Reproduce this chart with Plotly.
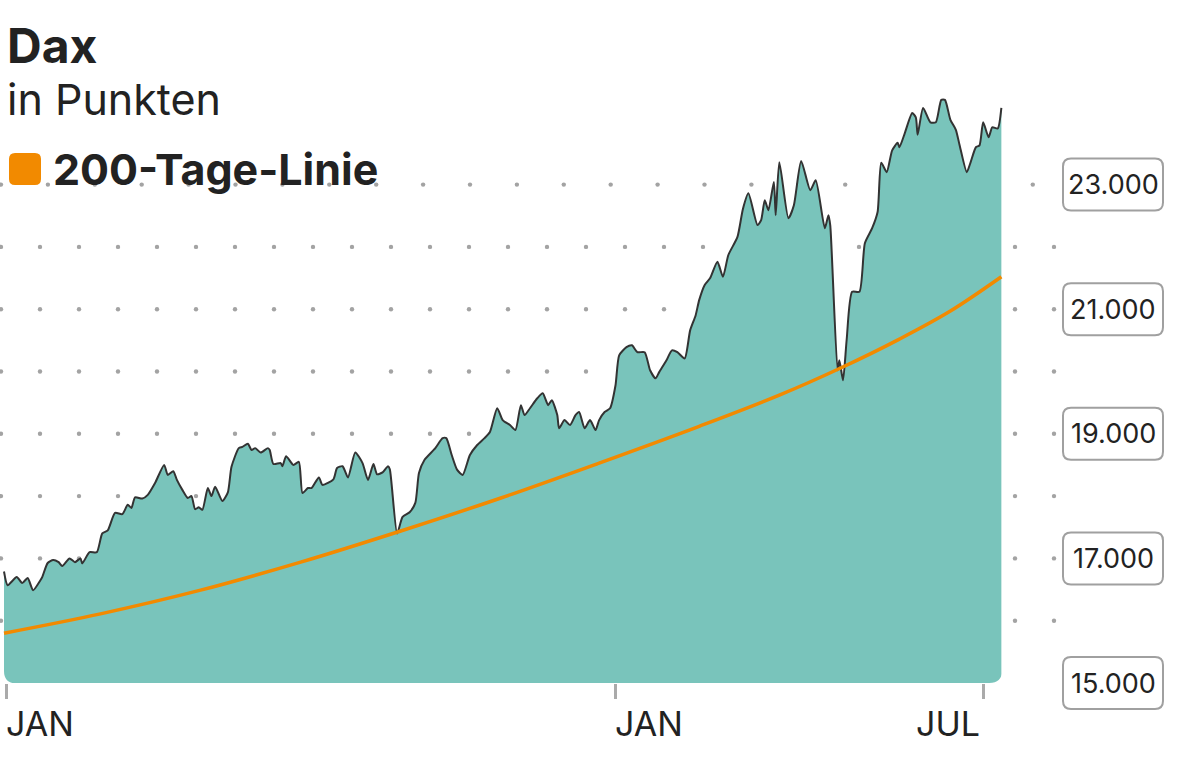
import plotly.graph_objects as go
import pandas as pd

# ---------------- data ----------------
dates = [
    "2024-01-02", "2024-01-04", "2024-01-09", "2024-01-12", "2024-01-15", "2024-01-18",
    "2024-01-22", "2024-01-23", "2024-01-26", "2024-01-29", "2024-02-01", "2024-02-03",
    "2024-02-07", "2024-02-10", "2024-02-13", "2024-02-14", "2024-02-18", "2024-02-22",
    "2024-02-25", "2024-02-28", "2024-03-03", "2024-03-07", "2024-03-10", "2024-03-12",
    "2024-03-14", "2024-03-18", "2024-03-21", "2024-03-25", "2024-03-30", "2024-04-01",
    "2024-04-04", "2024-04-06", "2024-04-09", "2024-04-12", "2024-04-14", "2024-04-16",
    "2024-04-18", "2024-04-20", "2024-04-23", "2024-04-25", "2024-04-27", "2024-05-01",
    "2024-05-04", "2024-05-06", "2024-05-10", "2024-05-12", "2024-05-15", "2024-05-17",
    "2024-05-19", "2024-05-22", "2024-05-26", "2024-05-27", "2024-05-29", "2024-06-02",
    "2024-06-03", "2024-06-05", "2024-06-09", "2024-06-12", "2024-06-14", "2024-06-17",
    "2024-06-19", "2024-06-23", "2024-06-25", "2024-07-01", "2024-07-03", "2024-07-06",
    "2024-07-09", "2024-07-13", "2024-07-17", "2024-07-20", "2024-07-23", "2024-07-25",
    "2024-07-28", "2024-07-31", "2024-08-01", "2024-08-05", "2024-08-08", "2024-08-12",
    "2024-08-15", "2024-08-17", "2024-08-20", "2024-08-26", "2024-08-30", "2024-09-01",
    "2024-09-04", "2024-09-07", "2024-09-10", "2024-09-14", "2024-09-18", "2024-09-22",
    "2024-09-25", "2024-09-29", "2024-10-02", "2024-10-06", "2024-10-09", "2024-10-12",
    "2024-10-14", "2024-10-17", "2024-10-21", "2024-10-24", "2024-10-27", "2024-10-29",
    "2024-11-01", "2024-11-02", "2024-11-05", "2024-11-08", "2024-11-11", "2024-11-13",
    "2024-11-16", "2024-11-19", "2024-11-22", "2024-11-24", "2024-11-27", "2024-11-30",
    "2024-12-03", "2024-12-05", "2024-12-09", "2024-12-12", "2024-12-15", "2024-12-19",
    "2024-12-22", "2024-12-25", "2024-12-27", "2024-12-31", "2025-01-03", "2025-01-06",
    "2025-01-10", "2025-01-13", "2025-01-16", "2025-01-18", "2025-01-21", "2025-01-24",
    "2025-01-28", "2025-01-31", "2025-02-03", "2025-02-08", "2025-02-11", "2025-02-14",
    "2025-02-19", "2025-02-21", "2025-02-23", "2025-02-25", "2025-02-28", "2025-03-01",
    "2025-03-03", "2025-03-08", "2025-03-11", "2025-03-15", "2025-03-20", "2025-03-23",
    "2025-03-28", "2025-03-30", "2025-03-31", "2025-04-04", "2025-04-05", "2025-04-07",
    "2025-04-09", "2025-04-12", "2025-04-16", "2025-04-19", "2025-04-23", "2025-04-26",
    "2025-04-28", "2025-05-01", "2025-05-04", "2025-05-07", "2025-05-08", "2025-05-11",
    "2025-05-15", "2025-05-17", "2025-05-18", "2025-05-21", "2025-05-25", "2025-05-28",
    "2025-05-31", "2025-06-02", "2025-06-05", "2025-06-08", "2025-06-10", "2025-06-14",
    "2025-06-16", "2025-06-19", "2025-06-21", "2025-06-23", "2025-06-26", "2025-06-28",
    "2025-07-01", "2025-07-03",
]
dax = [
    16790, 16570, 16700, 16605, 16685, 16490,
    16650, 16700, 16926, 16975, 16940, 16880,
    17000, 16940, 17000, 16920, 17100, 17100,
    17400, 17450, 17730, 17710, 17860, 17810,
    17980, 17960, 18020, 18210, 18500, 18340,
    18400, 18260, 18100, 17970, 18000, 17790,
    17820, 17780, 18130, 18000, 18150, 17920,
    18060, 18470, 18770, 18790, 18840, 18740,
    18770, 18700, 18770, 18740, 18515, 18530,
    18480, 18640, 18500, 18550, 18050, 18130,
    18130, 18300, 18180, 18270, 18450, 18480,
    18300, 18700, 18530, 18260, 18515, 18350,
    18380, 18480, 18430, 17400, 17665, 17745,
    17890, 18370, 18580, 18770, 18930, 18930,
    18660, 18420, 18340, 18660, 18820, 18930,
    19030, 19410, 19220, 19140, 19060, 19460,
    19300, 19410, 19570, 19650, 19460, 19540,
    19300, 19090, 19220, 19140, 19300, 19350,
    19090, 19220, 19060, 19220, 19350, 19410,
    19780, 20260, 20390, 20420, 20310, 20310,
    20020, 19890, 19990, 20180, 20340, 20310,
    20210, 20660, 20900, 21150, 21390, 21500,
    21760, 21520, 21870, 22160, 22610, 22860,
    22350, 22430, 22750, 22590, 23040, 22510,
    23360, 22460, 22670, 23380, 22910, 23070,
    22300, 22510, 22340, 20020, 20180, 19860,
    20510, 21280, 21280, 22060, 22300, 22560,
    23350, 23200, 23550, 23670, 23600, 23830,
    24150, 24080, 23800, 24230, 24000, 24000,
    24360, 24360, 24040, 23880, 23640, 23200,
    23350, 23600, 23630, 24000, 23760, 23920,
    23900, 24230,
]
ma_dates = ["2024-01-02", "2024-02-24", "2024-04-19", "2024-06-13", "2024-08-07", "2024-10-01",
            "2024-11-24", "2025-01-18", "2025-03-03", "2025-04-06", "2025-05-08", "2025-06-05",
            "2025-07-03"]
ma200 = [15800, 16110, 16490, 16940, 17440, 17970, 18530, 19120, 19620, 20060, 20520, 20970,
         21520]

y_tickvals = [15000, 17000, 19000, 21000, 23000]
y_ticktext = ["15.000", "17.000", "19.000", "21.000", "23.000"]
grid_rows = [16000, 17000, 18000, 19000, 20000, 21000, 22000, 23000]
x_tickvals = ["2024-01-03 15:00", "2024-12-03 06:00", "2025-06-22 22:00"]
x_ticktext = ["JAN", "JAN", "JUL"]

title = "Dax"
subtitle = "in Punkten"
legend_label = "200-Tage-Linie"

# ---------------- styling / geometry ----------------
W, H = 1200, 765
ML, MR, MT, MB = 0, 140, 60, 82
PW, PH = W - ML - MR, H - MT - MB
Y0, Y1 = 15000, 25000
PX_PER_DAY = 1.82
T0 = pd.Timestamp("2024-01-02")
x_start = T0 - pd.Timedelta(days=4 / PX_PER_DAY)
x_end = T0 + pd.Timedelta(days=(PW - 4) / PX_PER_DAY)

TEAL = "#79c4bb"
LINE = "#333333"
ORANGE = "#f28a00"
DOT = "#a3a3a3"
TXT = "#222222"
FONT = "Inter"


def xp(px):
    return (px - ML) / PW


def yp(py):
    return (MT + PH - py) / PH


def ypx_of(v):
    return MT + PH - (v - Y0) / (Y1 - Y0) * PH


def rrect(x0, y0, x1, y1, r):
    pts = [
        f"M {xp(x0 + r)},{yp(y0)}",
        f"L {xp(x1 - r)},{yp(y0)}",
        f"Q {xp(x1)},{yp(y0)} {xp(x1)},{yp(y0 + r)}",
        f"L {xp(x1)},{yp(y1 - r)}",
        f"Q {xp(x1)},{yp(y1)} {xp(x1 - r)},{yp(y1)}",
        f"L {xp(x0 + r)},{yp(y1)}",
        f"Q {xp(x0)},{yp(y1)} {xp(x0)},{yp(y1 - r)}",
        f"L {xp(x0)},{yp(y0 + r)}",
        f"Q {xp(x0)},{yp(y0)} {xp(x0 + r)},{yp(y0)}",
        "Z",
    ]
    return " ".join(pts)


fig = go.Figure()
fig.add_trace(go.Scatter(
    x=pd.to_datetime(dates), y=dax, mode="lines",
    line=dict(color=LINE, width=2, shape="spline", smoothing=0.6),
    fill="tozeroy", fillcolor=TEAL, hoverinfo="skip", showlegend=False,
))
fig.add_trace(go.Scatter(
    x=pd.to_datetime(ma_dates), y=ma200, mode="lines",
    line=dict(color=ORANGE, width=3.5, shape="spline", smoothing=1.0),
    hoverinfo="skip", showlegend=False,
))

shapes = []
# dotted grid (behind the area)
r_dot = 2.2
for v in grid_rows:
    cy = ypx_of(v)
    if v == 23000:
        xs = [1 + 46.9 * k for k in range(23)]
    else:
        xs = [1 + 39.0 * k for k in range(28)]
    for cx in xs:
        shapes.append(dict(type="circle", xref="paper", yref="paper", layer="below",
                           x0=xp(cx - r_dot), x1=xp(cx + r_dot),
                           y0=yp(cy + r_dot), y1=yp(cy - r_dot),
                           fillcolor=DOT, line=dict(width=0)))

# rounded bottom corners of the area
bl = (4.0, MT + PH)
br = (1001.4, MT + PH)
rc = 12
shapes.append(dict(type="path", xref="paper", yref="paper", layer="above",
                   path=(f"M {xp(bl[0]-1)},{yp(bl[1]-rc)} L {xp(bl[0]-1)},{yp(bl[1]+0.5)} "
                         f"L {xp(bl[0]+rc)},{yp(bl[1]+0.5)} Q {xp(bl[0])},{yp(bl[1])} {xp(bl[0])},{yp(bl[1]-rc)} Z"),
                   fillcolor="white", line=dict(width=0)))
shapes.append(dict(type="path", xref="paper", yref="paper", layer="above",
                   path=(f"M {xp(br[0]-rc)},{yp(br[1]+0.5)} L {xp(br[0]+1)},{yp(br[1]+0.5)} "
                         f"L {xp(br[0]+1)},{yp(br[1]-rc)} Q {xp(br[0])},{yp(br[1])} {xp(br[0]-rc)},{yp(br[1])} Z"),
                   fillcolor="white", line=dict(width=0)))

# boxed y labels
annotations = []
for v, t in zip(y_tickvals, y_ticktext):
    cy = ypx_of(v)
    shapes.append(dict(type="path", xref="paper", yref="paper", layer="above",
                       path=rrect(1063, cy - 26, 1163, cy + 26, 8),
                       fillcolor="white", line=dict(color="#a0a0a0", width=2)))
    annotations.append(dict(x=xp(1113), y=yp(cy), xref="paper", yref="paper",
                            text=t, showarrow=False, xanchor="center", yanchor="middle",
                            font=dict(family=FONT, size=27, color=TXT)))

# x labels
for i, (v, t) in enumerate(zip(x_tickvals, x_ticktext)):
    last = i == len(x_tickvals) - 1
    annotations.append(dict(x=v, y=yp(723), xref="x", yref="paper", text=t, showarrow=False,
                            xanchor="right" if last else "left", yanchor="middle",
                            xshift=-1 if last else -3,
                            font=dict(family=FONT, size=34, color=TXT)))

# title, subtitle, legend
annotations.append(dict(x=xp(5), y=yp(46), xref="paper", yref="paper", text=f"<b>{title}</b>",
                        showarrow=False, xanchor="left", yanchor="middle",
                        font=dict(family=FONT, size=48, color=TXT)))
annotations.append(dict(x=xp(5), y=yp(99), xref="paper", yref="paper", text=subtitle,
                        showarrow=False, xanchor="left", yanchor="middle",
                        font=dict(family=FONT, size=43, color=TXT)))
shapes.append(dict(type="path", xref="paper", yref="paper", layer="above",
                   path=rrect(9, 153, 41, 185, 6), fillcolor=ORANGE, line=dict(width=0)))
annotations.append(dict(x=xp(51), y=yp(169), xref="paper", yref="paper",
                        text=f"<b>{legend_label}</b>",
                        showarrow=False, xanchor="left", yanchor="middle",
                        font=dict(family=FONT, size=43, color=TXT)))

fig.update_layout(
    width=W, height=H,
    margin=dict(l=ML, r=MR, t=MT, b=MB),
    paper_bgcolor="white", plot_bgcolor="white",
    font=dict(family=FONT, color=TXT),
    shapes=shapes, annotations=annotations,
    showlegend=False,
    xaxis=dict(type="date", range=[x_start, x_end], showgrid=False, zeroline=False,
               showline=False, tickvals=pd.to_datetime(x_tickvals), ticktext=[""] * 3,
               ticks="outside", ticklen=15, tickwidth=2.5, tickcolor="#aaaaaa",
               showticklabels=False, fixedrange=True),
    yaxis=dict(range=[Y0, Y1], showgrid=False, zeroline=False, showline=False,
               showticklabels=False, ticks="", fixedrange=True),
)

fig.write_html("out.html", config={"displayModeBar": False},
               post_script="document.body.style.margin='0px';document.body.style.padding='0px';")
